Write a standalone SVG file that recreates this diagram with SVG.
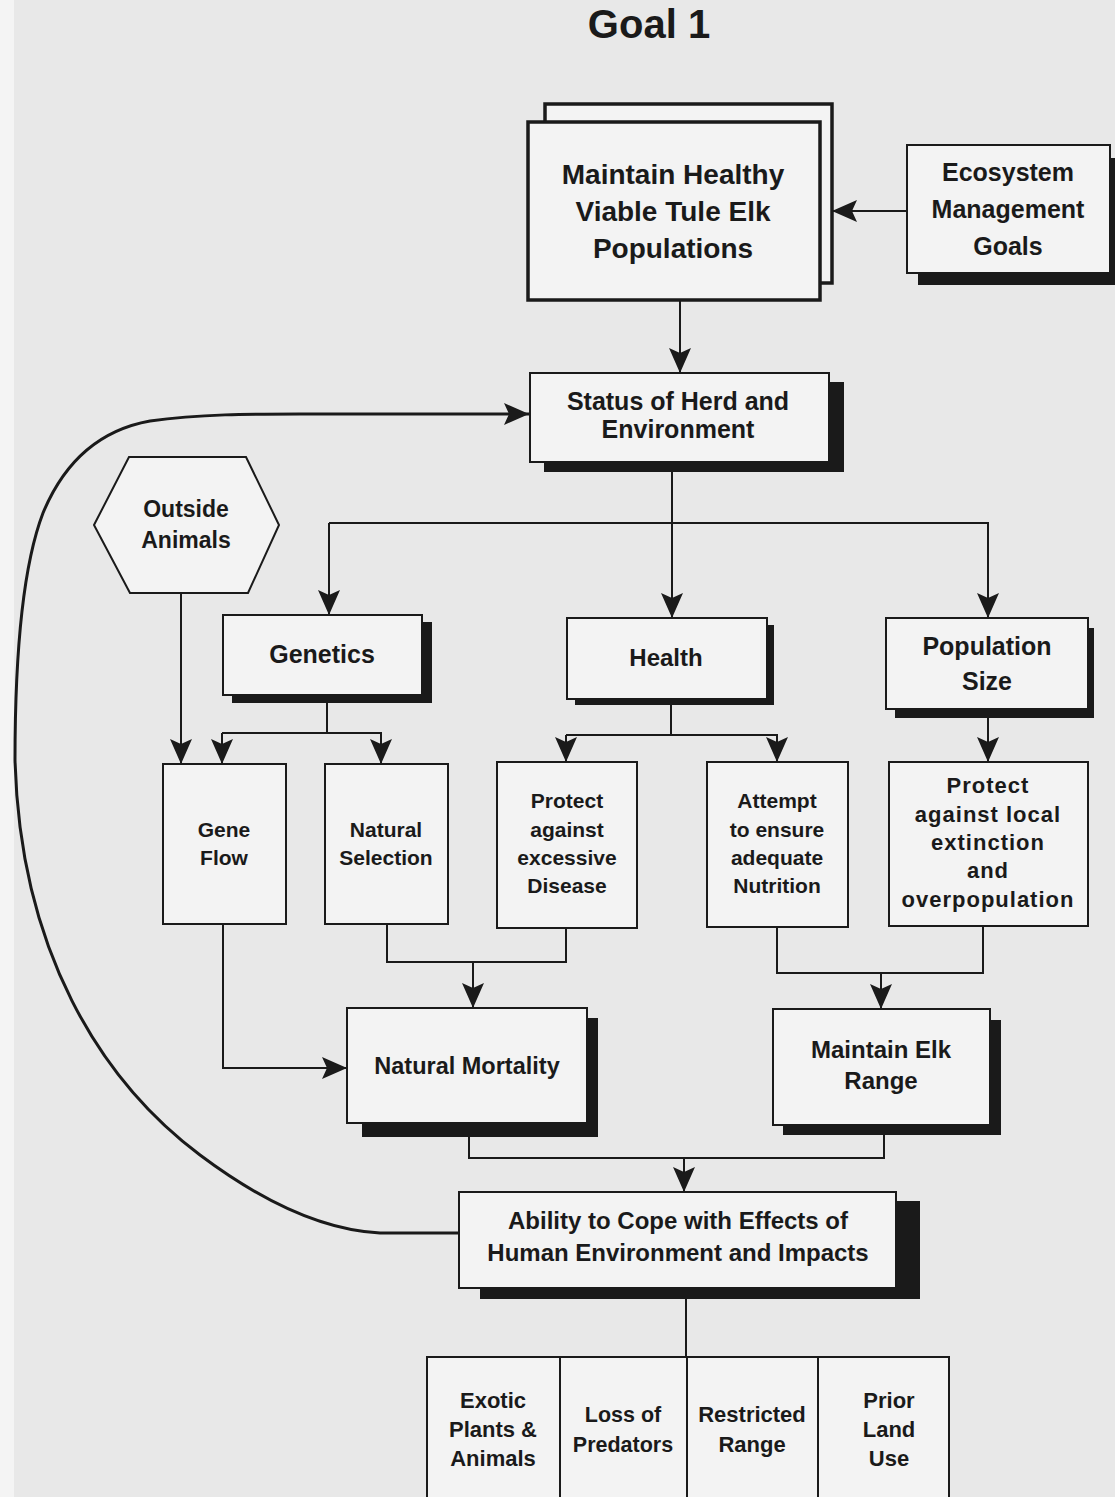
<svg xmlns="http://www.w3.org/2000/svg" width="1115" height="1497" viewBox="0 0 1115 1497">
<style>
.box{fill:#f3f3f3;stroke:#1a1a1a;stroke-width:2}
.thick{stroke-width:3.5}
.sh{fill:#1a1a1a}
.c{fill:none;stroke:#1a1a1a;stroke-width:2}
.curve{fill:none;stroke:#1a1a1a;stroke-width:3}
text{font-family:"Liberation Sans",Arial,sans-serif;font-weight:bold;fill:#1a1a1a;text-anchor:middle}
</style>
<defs>
<marker id="ah" viewBox="-26 -12 27 24" refX="0" refY="0" markerWidth="27" markerHeight="24" markerUnits="userSpaceOnUse" orient="auto">
<path d="M0,0 L-25,-11 L-20,0 L-25,11 Z" fill="#1a1a1a"/>
</marker>
</defs>
<rect x="0" y="0" width="1115" height="1497" fill="#e8e8e8"/>
<rect x="0" y="0" width="14" height="1497" fill="#f4f4f4"/>

<g id="title"><text x="649" y="38" font-size="40">Goal 1</text></g>

<g id="connectors">
<path class="c" d="M907,211 L832,211" marker-end="url(#ah)"/>
<path class="c" d="M680,301 L680,373" marker-end="url(#ah)" stroke-width="3"/>
<path class="c" d="M672,472 V618" marker-end="url(#ah)"/>
<path class="c" d="M329,523 H988 V618" marker-end="url(#ah)"/>
<path class="c" d="M329,523 V615" marker-end="url(#ah)"/>
<path class="c" d="M181,593 V764" marker-end="url(#ah)"/>
<path class="c" d="M327,703 V733"/>
<path class="c" d="M222,733 H381 V764" marker-end="url(#ah)"/>
<path class="c" d="M222,733 V764" marker-end="url(#ah)"/>
<path class="c" d="M671,705 V735"/>
<path class="c" d="M566,735 H777 V762" marker-end="url(#ah)"/>
<path class="c" d="M566,735 V762" marker-end="url(#ah)"/>
<path class="c" d="M988,718 V762" marker-end="url(#ah)"/>
<path class="c" d="M223,924 V1068 H347" marker-end="url(#ah)"/>
<path class="c" d="M387,924 V962 H566 V928"/>
<path class="c" d="M473,962 V1008" marker-end="url(#ah)"/>
<path class="c" d="M777,927 V973 H983 V926"/>
<path class="c" d="M881,973 V1009" marker-end="url(#ah)"/>
<path class="c" d="M469,1137 V1158 H884 V1135"/>
<path class="c" d="M684,1158 V1192" marker-end="url(#ah)"/>
<path class="c" d="M686,1299 V1357" stroke-width="3"/>
<path class="curve" d="M459,1233 L380,1233 C320,1230 260,1200 200,1155 C100,1080 20,950 15,760 C15,640 25,560 43,513 C65,460 100,430 150,421 C200,414 250,414 300,414 L529,414" marker-end="url(#ah)"/>
</g>

<g id="main">
<rect class="box thick" x="545" y="104" width="287" height="179"/>
<rect class="box thick" x="528" y="122" width="292" height="178"/>
<text x="673" y="184" font-size="28">Maintain Healthy</text>
<text x="673" y="221" font-size="28">Viable Tule Elk</text>
<text x="673" y="258" font-size="28">Populations</text>
</g>

<g id="ecosystem">
<rect class="sh" x="918" y="158" width="197" height="127"/>
<rect class="box" x="907" y="145" width="203" height="128"/>
<text x="1008" y="181" font-size="25">Ecosystem</text>
<text x="1008" y="218" font-size="25">Management</text>
<text x="1008" y="255" font-size="25">Goals</text>
</g>

<g id="status">
<rect class="sh" x="544" y="382" width="300" height="90"/>
<rect class="box" x="530" y="373" width="299" height="89"/>
<text x="678" y="410" font-size="25">Status of Herd and</text>
<text x="678" y="438" font-size="25">Environment</text>
</g>

<g id="outside">
<polygon class="box" points="94,525 129,457 246,457 279,525 248,593 130,593"/>
<text x="186" y="517" font-size="23">Outside</text>
<text x="186" y="548" font-size="23">Animals</text>
</g>

<g id="genetics">
<rect class="sh" x="232" y="622" width="200" height="81"/>
<rect class="box" x="223" y="615" width="199" height="80"/>
<text x="322" y="663" font-size="25">Genetics</text>
</g>

<g id="health">
<rect class="sh" x="575" y="625" width="199" height="80"/>
<rect class="box" x="567" y="618" width="200" height="81"/>
<text x="666" y="666" font-size="24">Health</text>
</g>

<g id="population">
<rect class="sh" x="895" y="628" width="199" height="90"/>
<rect class="box" x="886" y="618" width="202" height="91"/>
<text x="987" y="655" font-size="25">Population</text>
<text x="987" y="690" font-size="25">Size</text>
</g>

<g id="geneflow">
<rect class="box" x="163" y="764" width="123" height="160"/>
<text x="224" y="837" font-size="21">Gene</text>
<text x="224" y="865" font-size="21">Flow</text>
</g>

<g id="naturalselection">
<rect class="box" x="325" y="764" width="123" height="160"/>
<text x="386" y="837" font-size="21">Natural</text>
<text x="386" y="865" font-size="21">Selection</text>
</g>

<g id="disease">
<rect class="box" x="497" y="762" width="140" height="166"/>
<text x="567" y="808" font-size="21">Protect</text>
<text x="567" y="837" font-size="21">against</text>
<text x="567" y="865" font-size="21">excessive</text>
<text x="567" y="893" font-size="21">Disease</text>
</g>

<g id="nutrition">
<rect class="box" x="707" y="762" width="141" height="165"/>
<text x="777" y="808" font-size="21">Attempt</text>
<text x="777" y="837" font-size="21">to ensure</text>
<text x="777" y="865" font-size="21">adequate</text>
<text x="777" y="893" font-size="21">Nutrition</text>
</g>

<g id="extinction">
<rect class="box" x="889" y="762" width="199" height="164"/>
<text x="988" y="793" font-size="22" letter-spacing="1">Protect</text>
<text x="988" y="822" font-size="22" letter-spacing="1">against local</text>
<text x="988" y="850" font-size="22" letter-spacing="1">extinction</text>
<text x="988" y="878" font-size="22" letter-spacing="1">and</text>
<text x="988" y="907" font-size="22" letter-spacing="1">overpopulation</text>
</g>

<g id="mortality">
<rect class="sh" x="362" y="1018" width="236" height="119"/>
<rect class="box" x="347" y="1008" width="240" height="115"/>
<text x="467" y="1074" font-size="23.5">Natural Mortality</text>
</g>

<g id="range">
<rect class="sh" x="783" y="1020" width="218" height="115"/>
<rect class="box" x="773" y="1009" width="217" height="116"/>
<text x="881" y="1058" font-size="24">Maintain Elk</text>
<text x="881" y="1089" font-size="24">Range</text>
</g>

<g id="ability">
<rect class="sh" x="480" y="1201" width="440" height="98"/>
<rect class="box" x="459" y="1192" width="437" height="96"/>
<text x="678" y="1229" font-size="24">Ability to Cope with Effects of</text>
<text x="678" y="1261" font-size="24">Human Environment and Impacts</text>
</g>

<g id="exotic">
<rect class="box" x="427" y="1357" width="133" height="150"/>
<text x="493" y="1408" font-size="22">Exotic</text>
<text x="493" y="1437" font-size="22">Plants &amp;</text>
<text x="493" y="1466" font-size="22">Animals</text>
</g>
<g id="predators">
<rect class="box" x="560" y="1357" width="127" height="150"/>
<text x="623" y="1422" font-size="21.5">Loss of</text>
<text x="623" y="1452" font-size="21.5">Predators</text>
</g>
<g id="restricted">
<rect class="box" x="687" y="1357" width="131" height="150"/>
<text x="752" y="1422" font-size="22">Restricted</text>
<text x="752" y="1452" font-size="22">Range</text>
</g>
<g id="landuse">
<rect class="box" x="818" y="1357" width="131" height="150"/>
<text x="889" y="1408" font-size="22">Prior</text>
<text x="889" y="1437" font-size="22">Land</text>
<text x="889" y="1466" font-size="22">Use</text>
</g>
</svg>
